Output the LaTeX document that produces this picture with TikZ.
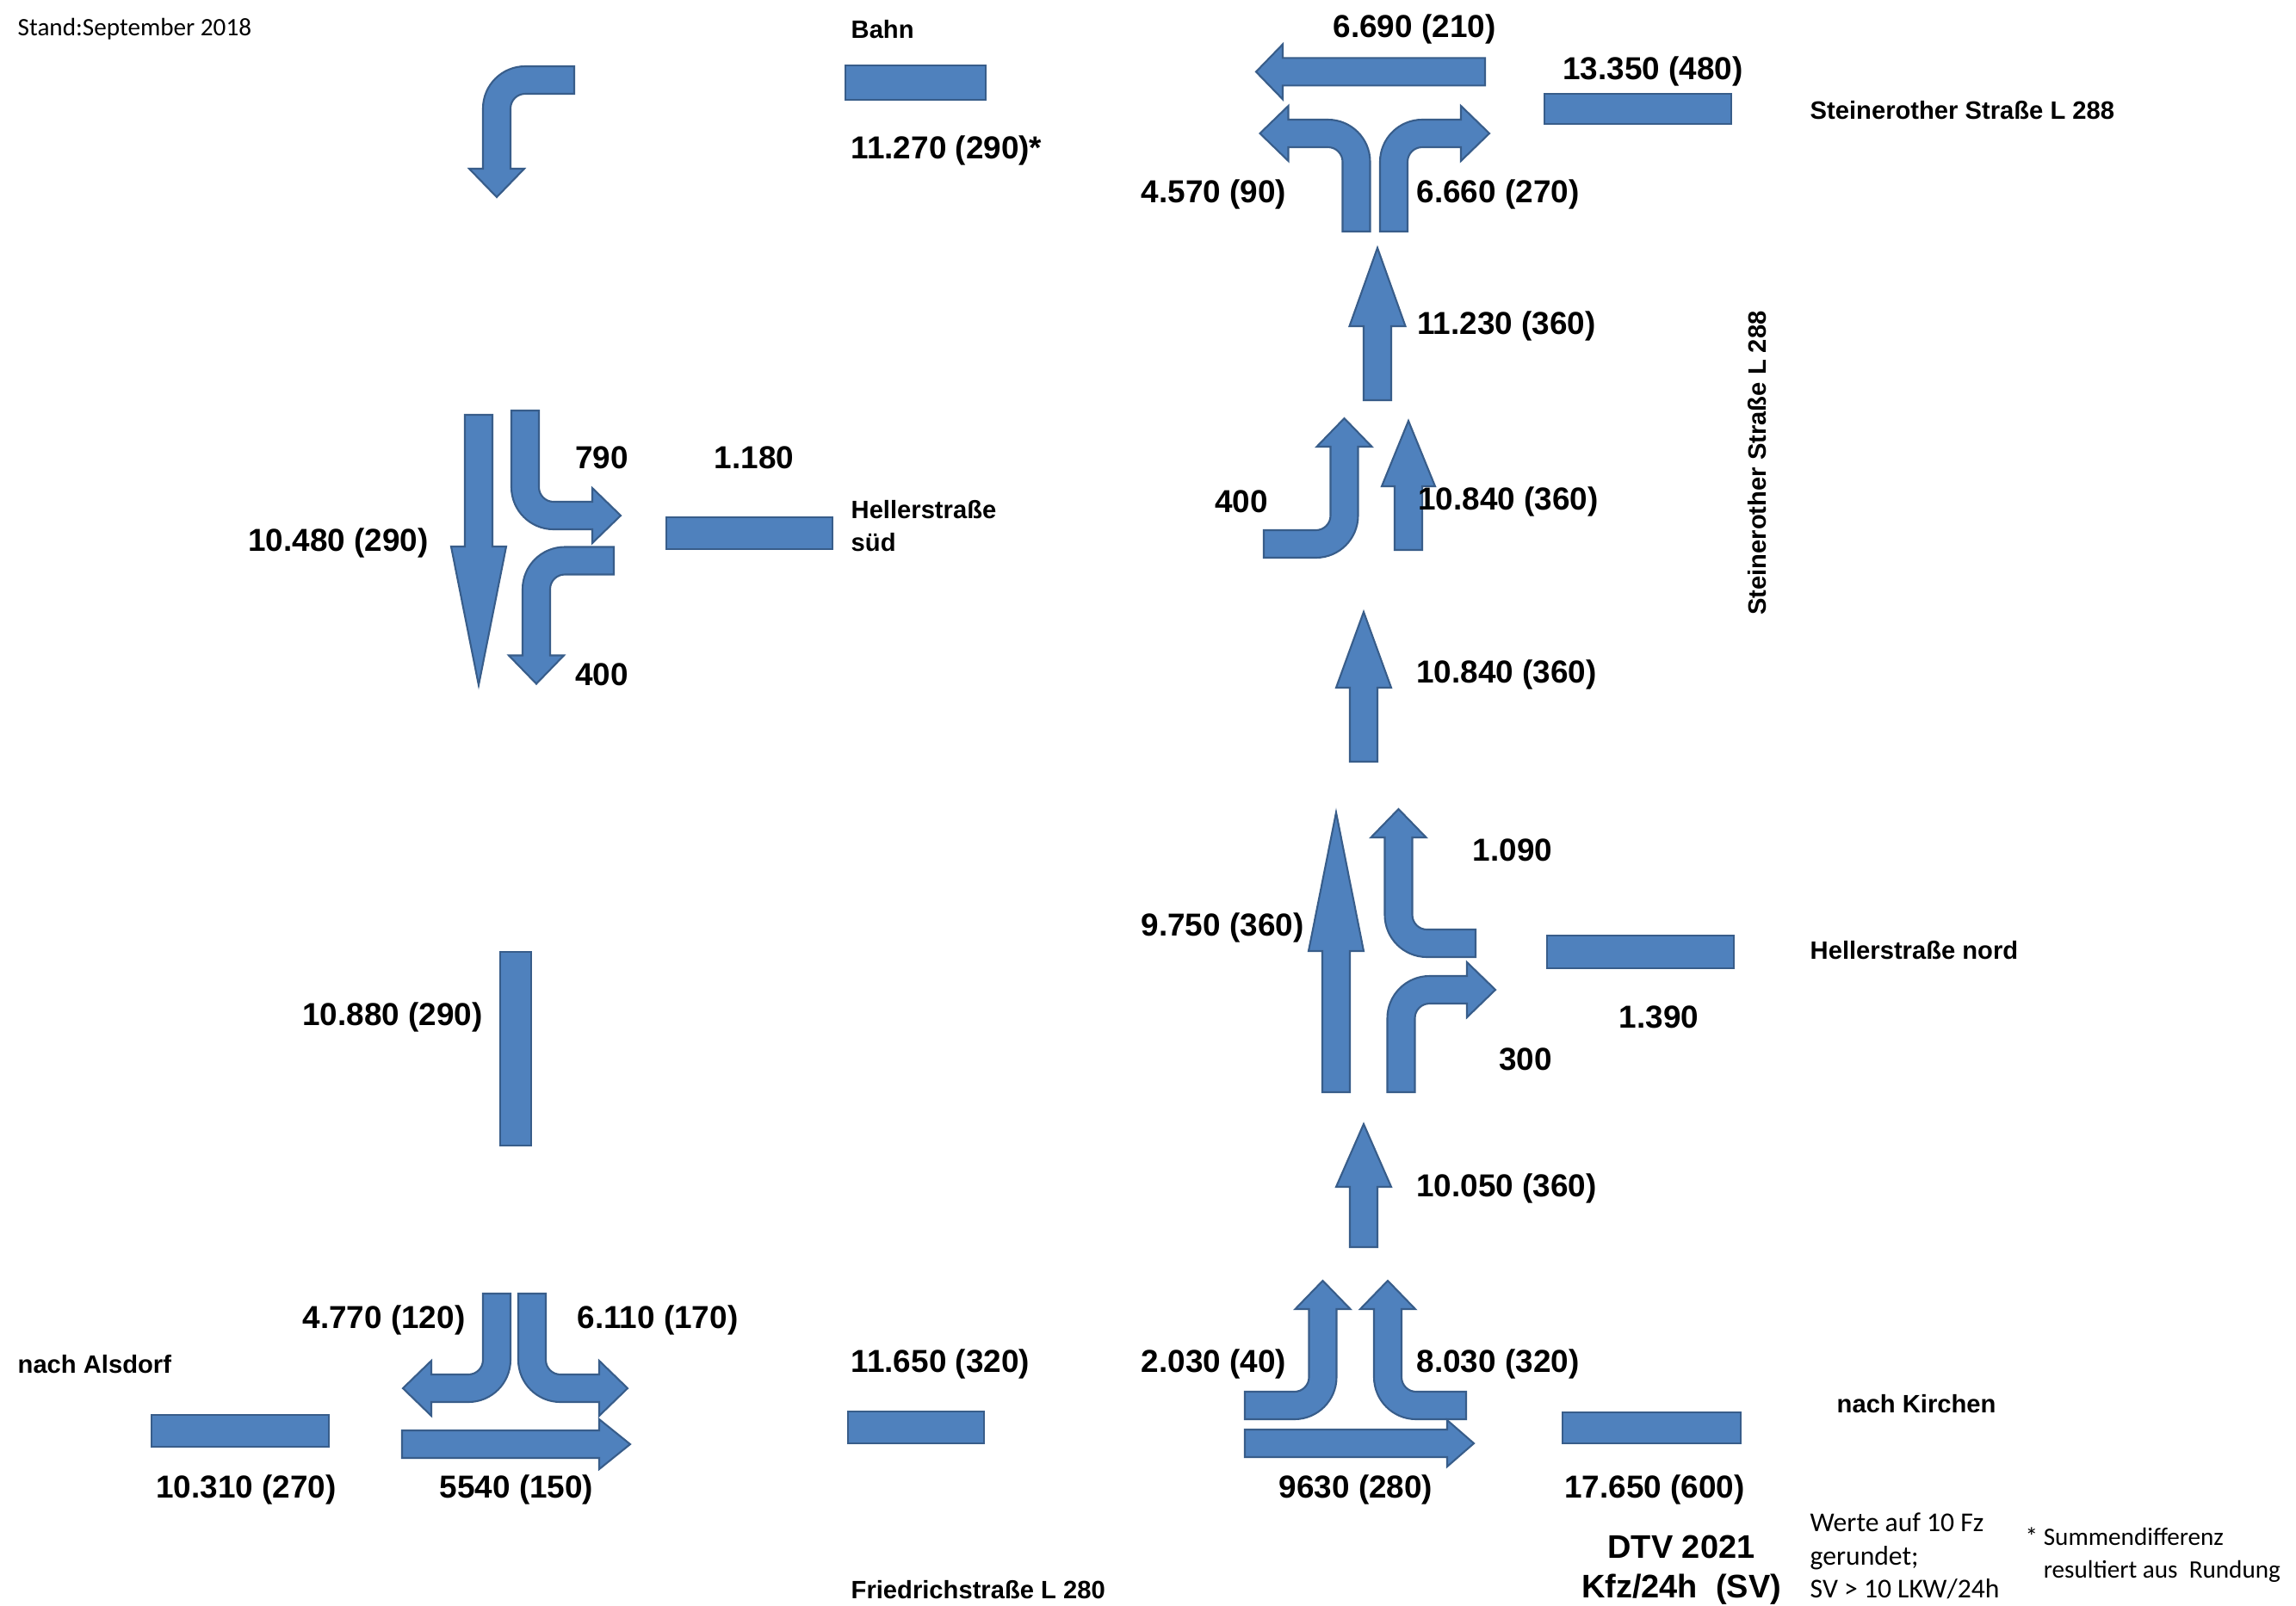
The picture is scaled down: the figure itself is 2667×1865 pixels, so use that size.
\documentclass[tikz,border=0pt]{standalone}
\usepackage{fontspec}
\setmainfont{Liberation Sans}
\newfontfamily\calibrifont{Carlito}
\usepackage{tikz}
\definecolor{flowblue}{HTML}{4F81BD}
\definecolor{flowedge}{HTML}{385D8A}
\tikzset{flow_shape/.style={fill=flowblue, draw=flowedge, line width=0.6pt, line join=miter}}
\tikzset{num_label/.style={font=\bfseries\fontsize{10.5}{12.6}\selectfont, inner sep=0pt, yshift=-0.3mm}}
\tikzset{street_label/.style={font=\bfseries\fontsize{8.3}{11}\selectfont, inner sep=0pt, anchor=west, align=left}}
\tikzset{note_label/.style={font=\calibrifont\fontsize{9}{11.3}\selectfont, inner sep=0pt, anchor=west, align=left}}

\newcommand{\stemhw}{16}
\newcommand{\bendr}{33}
\newcommand{\headhw}{32}
\newcommand{\headlen}{33}

% tail, direction in, direction out, length to bend, length to head
\newcommand{\flowturn}[5]{%
  \begin{scope}[shift={(#1)}, x={(#2:0.1mm)}, y={(#3:0.1mm)}]
    \filldraw[flow_shape] (0,-\stemhw) -- ({#4-\bendr},-\stemhw)
      arc[start angle=270, end angle=360, radius={\bendr+\stemhw}]
      -- ({#4+\stemhw},#5) -- ({#4+\headhw},#5) -- (#4,{#5+\headlen})
      -- ({#4-\headhw},#5) -- ({#4-\stemhw},#5) -- ({#4-\stemhw},\bendr)
      arc[start angle=0, end angle=-90, radius={\bendr-\stemhw}]
      -- (0,\stemhw) -- cycle;
  \end{scope}}
% tail, direction, length to head, head length, head half width
\newcommand{\flowstraight}[5]{%
  \begin{scope}[shift={(#1)}, x={(#2:0.1mm)}, y={(#2+90:0.1mm)}]
    \filldraw[flow_shape] (0,-\stemhw) -- (#3,-\stemhw) -- (#3,-#5) -- ({#3+#4},0)
      -- (#3,#5) -- (#3,\stemhw) -- (0,\stemhw) -- cycle;
  \end{scope}}

\begin{document}
\begin{tikzpicture}[x=0.1mm, y=-0.1mm]
    \useasboundingbox (0,0) rectangle (2667,1865);

    % left road
    \flowturn{667,93}{180}{270}{90}{103}
    \draw[flow_shape] (982,76) rectangle (1145,116);
    \flowstraight{556,482}{270}{153}{161}{32}
    \flowturn{610,477}{270}{0}{122}{78}
    \flowturn{713,651.5}{180}{270}{90}{110}
    \draw[flow_shape] (774,601) rectangle (967,638);
    \draw[flow_shape] (581,1106) rectangle (617,1331);
    \flowturn{577,1503}{270}{180}{110}{76}
    \flowturn{618,1503}{270}{0}{110}{78}
    \flowstraight{467,1678}{0}{229}{36}{29}
    \draw[flow_shape] (176,1644) rectangle (382,1681);
    \draw[flow_shape] (985,1640) rectangle (1143,1677);

    % right road
    \flowstraight{1725,83.4}{180}{235}{31}{32}
    \draw[flow_shape] (1794,109) rectangle (2011,144);
    \flowturn{1575.5,269}{90}{180}{114}{79}
    \flowturn{1619,269}{90}{0}{114}{78}
    \flowstraight{1600,465}{90}{86}{91}{32.5}
    \flowturn{1468,632}{0}{90}{93.5}{113}
    \flowstraight{1636,639}{90}{74}{76}{31}
    \flowstraight{1584,885}{90}{86}{88}{32}
    \flowstraight{1552,1269}{90}{164}{161}{32}
    \flowturn{1714,1096}{180}{90}{89.5}{123}
    \flowturn{1627.5,1269}{90}{0}{119}{76.5}
    \draw[flow_shape] (1797,1087) rectangle (2014,1125);
    \flowstraight{1584,1449}{90}{70}{73}{32}
    \flowturn{1446,1633}{0}{90}{90.5}{112}
    \flowturn{1703,1633}{180}{90}{91}{112}
    \flowstraight{1446,1677}{0}{235}{31}{27}
    \draw[flow_shape] (1815,1641) rectangle (2022,1677);

    % labels
    \node[note_label, font=\calibrifont\fontsize{8.3}{10}\selectfont] (stand) at (20,34) {Stand:September 2018};
    \node[street_label] (bahn) at (988,34) {Bahn};
    \node[num_label, anchor=west] (bahn_count) at (988,172) {11.270 (290)*};
    \node[num_label] (sued_right) at (699,529) {790};
    \node[num_label] (sued_count) at (876,529) {1.180};
    \node[street_label] (sued) at (988,611) {Hellerstra\ss e\\s\"ud};
    \node[num_label] (south_thru) at (393,628) {10.480 (290)};
    \node[num_label] (sued_left) at (699,781) {400};
    \node[num_label] (north_thru) at (456,1179) {10.880 (290)};
    \node[num_label] (alsdorf_left) at (446,1531) {4.770 (120)};
    \node[num_label] (alsdorf_right) at (764,1531) {6.110 (170)};
    \node[street_label] (alsdorf) at (20,1585) {nach Alsdorf};
    \node[num_label, anchor=west] (friedrich_count) at (988,1582) {11.650 (320)};
    \node[num_label] (alsdorf_count) at (286,1728) {10.310 (270)};
    \node[num_label] (alsdorf_thru) at (600,1728) {5540 (150)};
    \node[street_label] (friedrich) at (988,1847) {Friedrichstra\ss e L 280};

    \node[num_label] (stein_west) at (1643,31) {6.690 (210)};
    \node[num_label] (stein_count) at (1920,80) {13.350 (480)};
    \node[street_label] (stein) at (2102,128) {Steinerother Stra\ss e L 288};
    \node[num_label] (stein_left) at (1410,223) {4.570 (90)};
    \node[num_label] (stein_right) at (1740,223) {6.660 (270)};
    \node[num_label] (up_a) at (1750,376) {11.230 (360)};
    \node[num_label] (nord_in) at (1442,580) {400};
    \node[num_label] (up_b) at (1752,580) {10.840 (360)};
    \node[street_label, anchor=center, rotate=90] (stein_side) at (2041,538) {Steinerother Stra\ss e L 288};
    \node[num_label] (up_c) at (1750,781) {10.840 (360)};
    \node[num_label] (nord_in_left) at (1757,985) {1.090};
    \node[num_label] (nord_thru) at (1420,1075) {9.750 (360)};
    \node[street_label] (nord) at (2102,1104) {Hellerstra\ss e nord};
    \node[num_label] (nord_count) at (1927,1179) {1.390};
    \node[num_label] (nord_right) at (1772,1228) {300};
    \node[num_label] (up_d) at (1750,1378) {10.050 (360)};
    \node[num_label] (kirchen_left) at (1410,1582) {2.030 (40)};
    \node[num_label] (kirchen_right) at (1740,1582) {8.030 (320)};
    \node[street_label] (kirchen) at (2133,1631) {nach Kirchen};
    \node[num_label] (kirchen_thru) at (1575,1728) {9630 (280)};
    \node[num_label] (kirchen_count) at (1922,1728) {17.650 (600)};

    \node[num_label, align=center, font=\bfseries\fontsize{10.8}{13}\selectfont] (dtv) at (1953,1821) {DTV 2021\\Kfz/24h\ \ (SV)};
    \node[note_label, font=\calibrifont\fontsize{9}{11}\selectfont] (rounding) at (2102,1808) {Werte auf 10 Fz\\gerundet;\\SV > 10 LKW/24h};
    \node[note_label, font=\calibrifont\fontsize{8.3}{10.8}\selectfont] (sum_note) at (2352,1807) {* Summendifferenz\\\phantom{*\ }resultiert aus\ \ Rundung};
\end{tikzpicture}
\end{document}
